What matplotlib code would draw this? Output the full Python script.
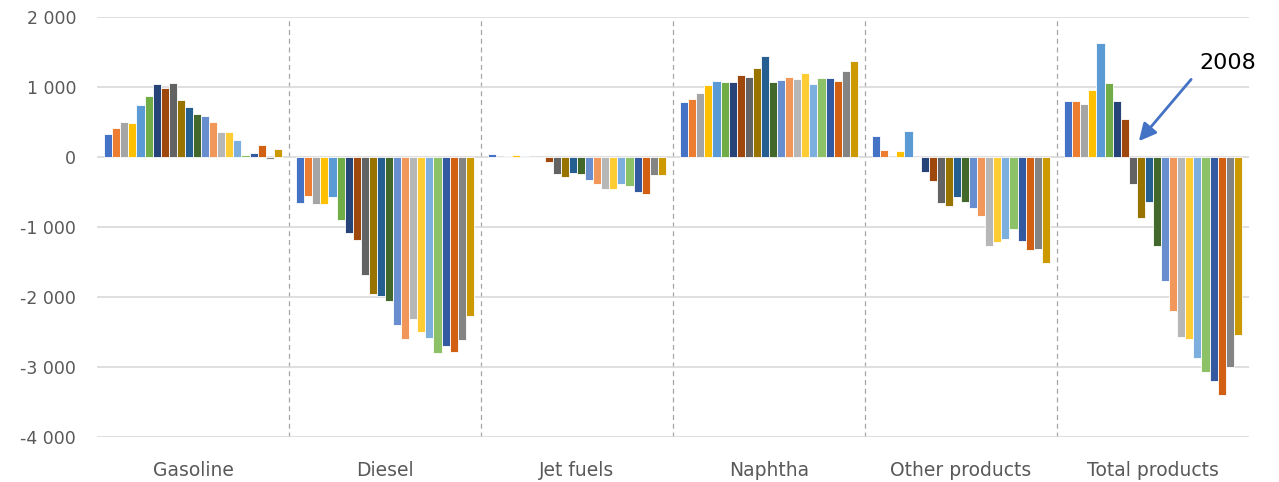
import matplotlib.pyplot as plt
import numpy as np

categories = ["Gasoline", "Diesel", "Jet fuels", "Naphtha", "Other products", "Total products"]
years = list(range(2000, 2022))

gasoline = [333, 419, 505, 481, 738, 876, 1038, 990, 1062, 814, 710, 610,
            581, 495, 352, 352, 238, 33, 62, 171, -24, 119]
diesel = [-663, -559, -678, -678, -578, -900, -1081, -1185, -1682, -1957, -1990, -2062,
          -2398, -2597, -2313, -2498, -2583, -2796, -2701, -2787, -2621, -2265]
jet_fuels = [40, 0, 10, 30, 10, 0, 0, -70, -248, -290, -233, -238,
             -333, -390, -452, -452, -390, -419, -495, -533, -257, -262]
naphtha = [781, 829, 910, 1029, 1090, 1067, 1067, 1171, 1138, 1276, 1438, 1071,
           1095, 1138, 1110, 1205, 1048, 1133, 1129, 1086, 1233, 1367]
other_products = [305, 105, 0, 86, 367, 0, -210, -348, -657, -695, -571, -648,
                  -733, -848, -1267, -1214, -1167, -1033, -1195, -1333, -1314, -1514]
total_products = [795, 795, 762, 962, 1629, 1057, 800, 543, -381, -867, -648, -1271,
                  -1771, -2195, -2571, -2600, -2867, -3076, -3205, -3400, -3000, -2543]

yticks = [2000, 1000, 0, -1000, -2000, -3000, -4000]

colors = ["#4472C4", "#ED7D31", "#A5A5A5", "#FFC000", "#5B9BD5", "#70AD47",
          "#264478", "#9E480E", "#636363", "#997300", "#255E91", "#43682B",
          "#698ED0", "#F1975A", "#B7B7B7", "#FFCD33", "#7CAFDD", "#8CC168",
          "#335AA1", "#D26012", "#848484", "#CC9A00"]

data = np.array([gasoline, diesel, jet_fuels, naphtha, other_products, total_products])

fig = plt.figure(figsize=(12.79, 4.82), dpi=100)
ax = fig.add_axes([97 / 1279, 45 / 482, 1152 / 1279, 420 / 482])

n = len(years)
slot = 0.926 / n
x = np.arange(len(categories))
for j in range(n):
    offs = (j - (n - 1) / 2) * slot
    ax.bar(x + offs, data[:, j], width=slot, color=colors[j],
           edgecolor="white", linewidth=0.6, zorder=3)

ax.set_xlim(-0.5, len(categories) - 0.5)
ax.set_ylim(-4000, 2000)
ax.set_yticks(yticks)
ax.set_yticklabels([f"{v:,}".replace(",", " ") for v in yticks])
ax.yaxis.grid(True, color="#D9D9D9", linewidth=1.2, zorder=0)
ax.set_xticks(x)
ax.set_xticklabels(categories)
ax.tick_params(axis="y", length=0, labelsize=12.5, colors="#595959", pad=15)
ax.tick_params(axis="x", length=0, labelsize=13.5, colors="#595959", pad=17)
for s in ax.spines.values():
    s.set_visible(False)

for b in x[:-1] + 0.5:
    ax.axvline(b, color="#A6A6A6", linestyle=(0, (4, 3)), linewidth=0.9, zorder=1)

# 2008 annotation
ax.annotate("", xy=(4.917, 196), xytext=(5.208, 1139),
            arrowprops=dict(arrowstyle="-|>", color="#4472C4", lw=2,
                            mutation_scale=26), zorder=5)
ax.text(5.39, 1339, "2008", fontsize=16, ha="center", va="center", color="black")

plt.savefig("out.png", dpi=100)
